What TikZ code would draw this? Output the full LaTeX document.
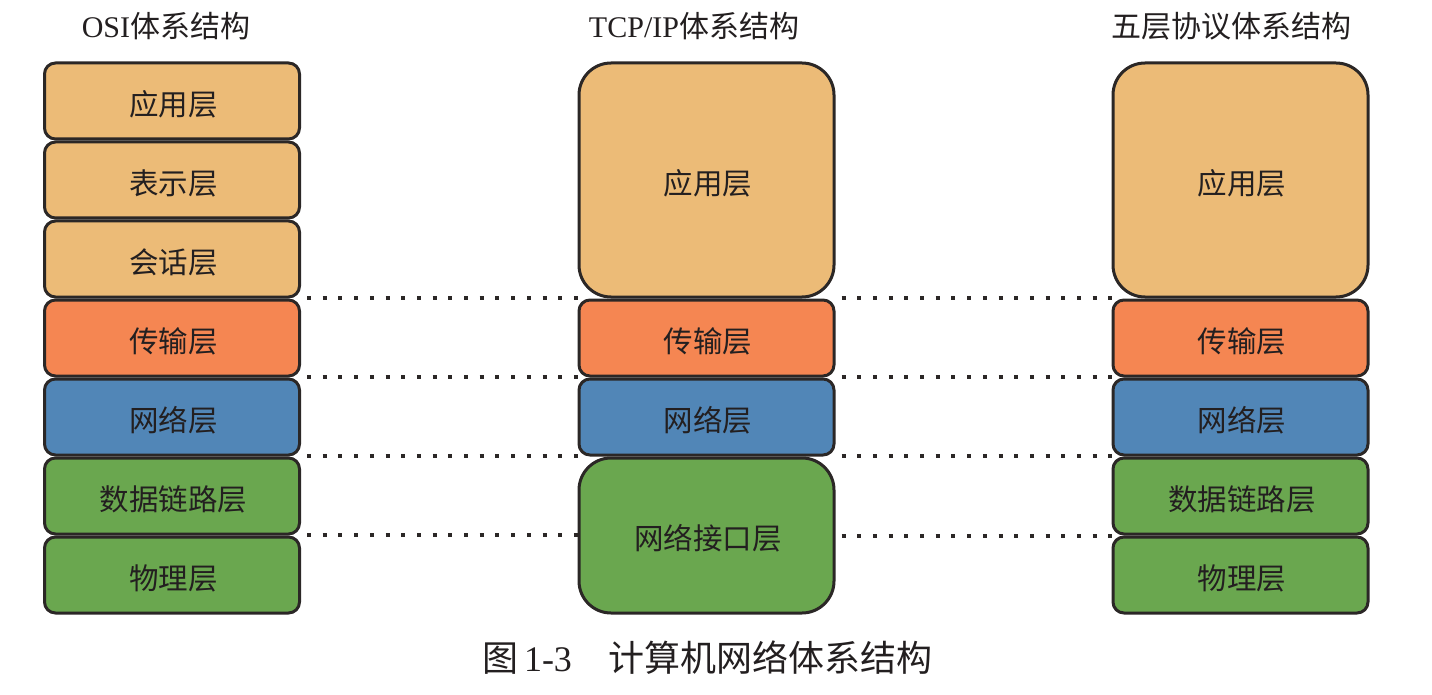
\documentclass[tikz,border=0pt]{standalone}
\usepackage{fontspec}
\setmainfont{Liberation Serif}
\newfontfamily\cjk{Noto Sans CJK SC}
\definecolor{tan}{RGB}{236,187,119}
\definecolor{orng}{RGB}{245,134,82}
\definecolor{blu}{RGB}{81,134,183}
\definecolor{grn}{RGB}{106,167,79}
\definecolor{edge}{RGB}{43,39,38}
\definecolor{ink}{RGB}{35,31,32}
\newcommand{\lbl}[1]{\hspace*{3pt}\raisebox{-3pt}[\height][\depth]{#1}}
\begin{document}
\begin{tikzpicture}[x=1pt,y=-1pt,
  layer/.style={draw=edge,line width=3pt,rounded corners=11pt,minimum width=255pt,
    minimum height=76pt,inner sep=0pt,text=ink,font=\fontsize{29.5}{32}\selectfont\cjk},
  biglayer/.style={layer,rounded corners=32pt},
  title/.style={text=ink,font=\fontsize{30}{33}\selectfont,inner sep=0pt},
  dots/.style={draw=edge,line width=4pt,dash pattern=on 4pt off 11.7pt}]
\useasboundingbox (0,0) rectangle (1432,695);
% OSI column
\node[title] (h1) at (166,26) {OSI{\cjk 体系结构}};
\node[layer,fill=tan]  (o1) at (172,101) {\lbl{应用层}};
\node[layer,fill=tan]  (o2) at (172,180) {\lbl{表示层}};
\node[layer,fill=tan]  (o3) at (172,259) {\lbl{会话层}};
\node[layer,fill=orng] (o4) at (172,338) {\lbl{传输层}};
\node[layer,fill=blu]  (o5) at (172,417) {\lbl{网络层}};
\node[layer,fill=grn]  (o6) at (172,496) {\lbl{数据链路层}};
\node[layer,fill=grn]  (o7) at (172,575) {\lbl{物理层}};
% TCP/IP column
\node[title] (h2) at (694,26) {TCP/IP{\cjk 体系结构}};
\node[biglayer,fill=tan,minimum height=234pt] (t1) at (706.5,180) {\lbl{应用层}};
\node[layer,fill=orng] (t2) at (706.5,338) {\lbl{传输层}};
\node[layer,fill=blu]  (t3) at (706.5,417) {\lbl{网络层}};
\node[biglayer,fill=grn,minimum height=155pt] (t4) at (706.5,535.5) {\lbl{网络接口层}};
% Five-layer column
\node[title,font=\fontsize{30}{33}\selectfont\cjk] (h3) at (1231,26) {五层协议体系结构};
\node[biglayer,fill=tan,minimum height=234pt] (f1) at (1240.5,180) {\lbl{应用层}};
\node[layer,fill=orng] (f2) at (1240.5,338) {\lbl{传输层}};
\node[layer,fill=blu]  (f3) at (1240.5,417) {\lbl{网络层}};
\node[layer,fill=grn]  (f4) at (1240.5,496) {\lbl{数据链路层}};
\node[layer,fill=grn]  (f5) at (1240.5,575) {\lbl{物理层}};
% dotted alignment lines
\draw[dots] ([xshift=6pt,yshift=1pt]o4.north east) -- ([yshift=1pt]o4.north east -| t2.west);
\draw[dots] ([xshift=6pt,yshift=1pt]t2.north east) -- ([yshift=1pt]t2.north east -| f2.west);
\draw[dots] ([xshift=6pt,yshift=1pt]o5.north east) -- ([yshift=1pt]o5.north east -| t3.west);
\draw[dots] ([xshift=6pt,yshift=1pt]t3.north east) -- ([yshift=1pt]t3.north east -| f3.west);
\draw[dots] ([xshift=6pt,yshift=1pt]o6.north east) -- ([yshift=1pt]o6.north east -| t4.west);
\draw[dots] ([xshift=6pt,yshift=1pt]t3.south east) -- ([yshift=1pt]t3.south east -| f4.west);
\draw[dots] ([xshift=6pt,yshift=1pt]o7.north east) -- ([yshift=1pt]o7.north east -| t4.west);
\draw[dots] ([xshift=6pt]t4.east) -- (t4.east -| f5.west);
% caption
\node[text=ink,inner sep=0pt,font=\fontsize{36}{40}\selectfont] (cap) at (707,658)
  {{\cjk 图}\,1-3\quad{\cjk 计算机网络体系结构}};
\end{tikzpicture}
\end{document}
